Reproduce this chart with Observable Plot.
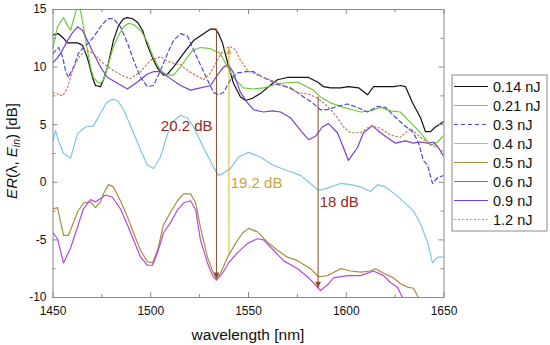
<!DOCTYPE html>
<html><head><meta charset="utf-8">
<script src="https://cdn.jsdelivr.net/npm/d3@7"></script>
<script src="https://cdn.jsdelivr.net/npm/@observablehq/plot@0.6"></script>
<style>
html,body{margin:0;padding:0;background:#fff;}
#chart{position:relative;width:550px;height:345px;}
svg{font-family:"Liberation Sans",Arial,sans-serif;}
</style></head><body><div id="chart"></div>
<script>
// ---- data: [wavelength nm, ER dB] ----
const s014 = [[1450,12.8],[1452.8,12.9],[1455.4,12.5],[1457.4,12.1],[1462.5,12.1],[1465.1,11.9],[1467.6,10.8],[1470.2,9.1],[1471.7,8.4],[1474.3,8.3],[1475.8,8.9],[1477.9,10.0],[1480.9,12.3],[1483.5,13.6],[1486.1,14.2],[1488.1,14.3],[1490.7,14.2],[1493.2,13.9],[1495.8,13.2],[1498.3,11.9],[1500.9,10.8],[1503.5,9.9],[1506.5,9.3],[1508.6,9.4],[1511.6,10.0],[1516.8,11.2],[1521.9,12.3],[1527,12.9],[1530.6,13.3],[1533.1,13.3],[1534.7,12.9],[1536.7,12.1],[1539.3,10.4],[1542.3,8.6],[1545.9,7.4],[1548.5,7.1],[1552,7.3],[1556.1,7.7],[1560.2,8.3],[1564.8,8.9],[1569.9,9.1],[1575.1,9.1],[1580.7,9.1],[1585.3,8.7],[1588.4,8.3],[1592,8.2],[1597.1,8.2],[1601.1,8.3],[1606.3,8.2],[1610.9,7.6],[1614,8.3],[1619.1,8.3],[1624.2,8.3],[1627.8,8.4],[1630.3,8.3],[1633.9,6.9],[1638,5.6],[1640.5,4.4],[1643.1,4.4],[1645.6,4.8],[1649.2,5.2],[1650,5.3]];
const s021 = [[1450,11.7],[1452.3,13.5],[1453.8,13.9],[1455.4,14.3],[1457.4,13.6],[1459,13.2],[1461.5,14.7],[1462.5,15.2],[1464.1,14.9],[1465.6,13.5],[1467.6,11.5],[1469.2,10.0],[1470.7,9.1],[1472.8,8.7],[1474.3,8.6],[1475.8,8.9],[1477.9,10.0],[1480.4,11.5],[1483,12.6],[1486.1,13.5],[1488.6,13.8],[1491.2,13.7],[1494.8,13.2],[1498.3,12.2],[1501.4,10.8],[1505,9.7],[1508.6,9.3],[1511.6,9.3],[1515.2,10.0],[1518.8,10.9],[1521.9,11.5],[1525.4,11.7],[1530.6,11.6],[1535.4,11.2],[1539.3,10.0],[1542.3,9.1],[1547.4,8.2],[1552.6,8.1],[1557.7,8.2],[1566.4,8.6],[1575.1,8.7],[1583.3,8.0],[1586.8,7.4],[1591.9,6.9],[1598.6,6.5],[1607.3,6.1],[1612.4,6.2],[1617.5,6.5],[1622.6,6.2],[1627.7,6.1],[1632.8,5.2],[1638,4.3],[1643.1,3.2],[1646.7,3.5],[1650,4.1]];
const s03 = [[1450,11.2],[1452.8,11.7],[1454.9,10.9],[1456.4,9.7],[1457.9,9.1],[1460.5,10.0],[1463,11.2],[1465.6,11.7],[1468.2,12.1],[1470.7,12.6],[1474.3,13.5],[1477.9,14.2],[1480.9,14.2],[1484.5,13.5],[1488.1,12.1],[1491.2,10.6],[1494.8,9.1],[1498.3,8.3],[1501.4,8.4],[1505,9.7],[1508.6,11.2],[1511.6,12.3],[1515.2,12.9],[1518.8,12.7],[1521.9,11.5],[1525.4,10.2],[1529,8.9],[1532.1,7.8],[1534.7,7.6],[1537.2,7.8],[1540.8,8.9],[1544.4,9.5],[1548.5,9.6],[1552.6,9.6],[1557.7,9.1],[1564.8,8.5],[1571.5,8.2],[1576.6,7.6],[1582.7,6.9],[1586.8,6.3],[1590.4,6.3],[1595.5,6.6],[1600.6,6.8],[1605.7,6.5],[1610.9,6.1],[1616,6.6],[1620.1,6.5],[1624.2,5.8],[1629.3,5.0],[1634.4,4.3],[1637,3.4],[1639.5,1.9],[1641.6,1.5],[1644.1,-0.1],[1646.7,0.4],[1650,0.6]];
const s04 = [[1450,3.6],[1451.3,4.5],[1452.8,3.6],[1455.4,2.5],[1459,2.1],[1462.5,4.2],[1466.6,4.8],[1470.7,4.9],[1474.3,6.0],[1477.4,6.9],[1480.4,7.2],[1483,7.1],[1486.1,6.3],[1490.7,4.5],[1494.8,2.8],[1498.3,1.5],[1501.4,1.2],[1505,2.2],[1508.6,4.2],[1511.6,5.3],[1515.2,5.8],[1518.8,5.6],[1521.9,4.8],[1527,3.0],[1532.1,1.3],[1534.7,0.6],[1537.2,0.8],[1540.8,1.2],[1544.9,2.2],[1550,2.6],[1556.1,2.2],[1562.3,1.5],[1570,1.0],[1576.6,0.6],[1581.7,-0.1],[1585.8,-0.7],[1590.4,-0.5],[1597.1,-0.1],[1602.2,-0.2],[1607.3,-0.4],[1612.4,-0.8],[1616,-0.2],[1620.1,-0.4],[1626.2,-1.2],[1631.4,-2.0],[1634.4,-2.5],[1638,-3.6],[1641.6,-5.2],[1644.1,-7.0],[1646.7,-6.5],[1650,-6.5]];
const s05 = [[1450,-2.3],[1452.3,-2.2],[1455.4,-4.6],[1457.9,-4.6],[1462.5,-2.6],[1465.6,-1.8],[1469.2,-1.7],[1471.7,-2.2],[1474.3,-1.7],[1475.8,-1.0],[1478.4,-0.2],[1480.9,-0.4],[1484.5,-1.6],[1488.1,-3.0],[1491.2,-4.4],[1494.8,-5.9],[1498.3,-6.9],[1500.9,-7.0],[1503.5,-5.9],[1506.5,-3.7],[1510.1,-2.6],[1513.7,-1.6],[1516.8,-1.0],[1520.4,-1.0],[1523,-1.8],[1525.4,-3.9],[1529,-6.5],[1532.1,-7.9],[1533.6,-8.3],[1535.7,-7.9],[1539.3,-6.5],[1543.4,-5.3],[1546.9,-4.4],[1550,-4.0],[1554.6,-4.3],[1559.7,-5.2],[1564.8,-5.9],[1569.9,-6.5],[1575.1,-6.8],[1581.7,-7.5],[1585.8,-8.2],[1590.4,-8.1],[1597.1,-7.5],[1602.2,-7.7],[1607.3,-7.8],[1612.4,-7.7],[1615,-7.5],[1619.1,-7.9],[1624.2,-8.3],[1627.8,-8.8],[1631.4,-9.1],[1634.4,-9.2],[1637.5,-10.2]];
const s06 = [[1450,-4.4],[1452.3,-4.9],[1455.4,-7.0],[1459,-5.7],[1462.5,-3.9],[1465.6,-2.3],[1469.2,-1.5],[1471.7,-1.7],[1474.3,-1.4],[1476.9,-1.1],[1480.4,-1.3],[1484.5,-2.3],[1488.1,-3.7],[1491.2,-5.0],[1494.8,-6.5],[1498.3,-7.2],[1500.9,-7.2],[1503.5,-6.1],[1506.5,-4.4],[1510.1,-3.5],[1513.7,-2.4],[1516.8,-1.8],[1520.4,-1.6],[1523,-2.4],[1525.4,-5.0],[1529,-7.0],[1531.6,-8.1],[1533.6,-8.5],[1536.7,-7.9],[1539.8,-7.0],[1544.4,-6.1],[1549.5,-5.3],[1554.6,-4.9],[1557.7,-5.0],[1562.8,-5.9],[1567.9,-6.8],[1575.1,-7.5],[1580.2,-8.2],[1585.3,-9.1],[1586.8,-9.4],[1590.4,-8.9],[1593.5,-8.3],[1600.6,-8.1],[1607.3,-8.1],[1613.9,-7.7],[1619.1,-8.1],[1622.6,-8.7],[1626.2,-9.1],[1629.3,-10.2]];
const s09 = [[1450,10.4],[1452.3,10.8],[1454.9,11.5],[1457.4,12.3],[1460,13.0],[1462.5,13.5],[1465.1,13.2],[1467.6,12.3],[1470.7,11.2],[1474.3,10.0],[1477.9,9.1],[1483,8.6],[1488.1,8.1],[1493.2,8.7],[1498.3,9.4],[1501.4,9.6],[1505,9.6],[1510.1,9.0],[1515.2,8.4],[1520.4,8.0],[1525.4,8.2],[1530.6,8.4],[1534.1,9.3],[1537.2,10.0],[1539.8,10.2],[1542.3,9.5],[1545.9,7.8],[1549.5,6.9],[1552.6,6.3],[1557.7,6.1],[1562.3,6.2],[1566.4,6.1],[1571.5,5.6],[1576.6,4.5],[1580.7,3.7],[1584.3,4.0],[1587.8,4.8],[1590.9,5.1],[1595.5,4.3],[1598.6,3.0],[1601.1,1.9],[1605.7,3.0],[1608.8,4.3],[1613.4,4.9],[1617.5,4.3],[1621.6,3.8],[1625.2,3.4],[1630.3,3.6],[1634.4,3.4],[1638,3.5],[1641.6,3.4],[1644.6,3.5],[1647.2,3.0],[1650,2.2]];
const s12 = [[1450,7.8],[1454.9,7.5],[1457.4,8.2],[1460,9.7],[1463,10.8],[1466.6,11.5],[1470.7,11.2],[1475.8,10.3],[1480.9,9.7],[1486.1,9.2],[1489.6,9.0],[1494.8,9.6],[1499.9,10.6],[1505,10.9],[1510.1,10.4],[1515.2,10.2],[1518.8,9.7],[1522.9,9.3],[1527,8.9],[1530.6,9.5],[1534.1,10.6],[1537.2,11.5],[1540.3,11.8],[1543.4,11.5],[1545.9,10.6],[1549.5,9.7],[1554.6,9.3],[1561.3,8.9],[1567.9,8.4],[1575.1,7.8],[1581.7,7.6],[1585.3,7.3],[1588.4,6.9],[1592,6.3],[1595.5,5.6],[1598.6,4.8],[1602.2,4.3],[1607.3,4.3],[1612.4,4.9],[1617.5,4.7],[1622.6,4.1],[1627.7,3.9],[1632.8,4.7],[1638,3.9],[1642.1,3.4],[1646.7,3.0],[1650,2.6]];

const seriesLabels = ["0.14 nJ","0.21 nJ","0.3 nJ","0.4 nJ","0.5 nJ","0.6 nJ","0.9 nJ","1.2 nJ"];
const seriesData = [s014, s021, s03, s04, s05, s06, s09, s12];
const seriesColors = ["#111111","#72c83c","#4b4bdc","#7cc6e6","#a88f3e","#b847e0","#7440dc","#c8785a"];
const seriesDash = [null, null, "4,3", null, null, null, null, "1.5,2.5"];

const xMajor = [1450,1500,1550,1600,1650];
const xMinor = [1475,1525,1575,1625];
const yMajor = [-10,-5,0,5,10,15];
const yMinor = [-7.5,-2.5,2.5,7.5,12.5];

// annotations
const arrowX = [1533.6, 1540.0, 1585.6];
const arrowTop = [13.3, 11.7, 7.4];
const arrowBottom = [-8.4, -6.3, -9.2];
const arrowDir = ["down", "up", "down"];
const arrowColors = ["#8a4a2c", "#dcb232", "#8a4a2c"];
const annoText = ["20.2 dB", "19.2 dB", "18 dB"];
const annoX = [1531.6, 1540.9, 1586.4];
const annoY = [4.85, -0.1, -1.7];
const annoAnchor = ["end", "start", "start"];
const annoColors = ["#9a2a1e", "#c9a33c", "#9a2a1e"];

const W = 550, H = 345;
const mL = 52.5, mR = 106.5, mT = 9, mB = 48;
const plotW = W - mL - mR, plotH = H - mT - mB;
const gray = "#8a8a8a";

const triDown = {draw(ctx, size){ const h = Math.sqrt(size)*1.25, w = h*0.42; ctx.moveTo(0,0); ctx.lineTo(-w,-h); ctx.lineTo(w,-h); ctx.closePath(); }};
const triUp = {draw(ctx, size){ const h = Math.sqrt(size)*1.25, w = h*0.42; ctx.moveTo(0,0); ctx.lineTo(-w,h); ctx.lineTo(w,h); ctx.closePath(); }};

const marks = [];
seriesData.forEach((d, i) => {
  marks.push(Plot.line(d, {x: p => p[0], y: p => p[1], stroke: seriesColors[i], strokeWidth: 1.2, strokeDasharray: seriesDash[i] || undefined, clip: true}));
});
const arrows = arrowX.map((x, i) => ({x, y1: arrowBottom[i], y2: arrowTop[i], dir: arrowDir[i], color: arrowColors[i]}));
marks.push(Plot.ruleX(arrows, {x: "x", y1: "y1", y2: "y2", stroke: "color", strokeWidth: 1}));
marks.push(Plot.dot(arrows.filter(a => a.dir === "down"), {x: "x", y: "y1", symbol: triDown, r: 3, fill: "color", stroke: "none"}));
marks.push(Plot.dot(arrows.filter(a => a.dir === "up"), {x: "x", y: "y2", symbol: triUp, r: 3, fill: "color", stroke: "none"}));
const annos = annoText.map((t, i) => ({t, x: annoX[i], y: annoY[i], a: annoAnchor[i], c: annoColors[i]}));
annos.forEach(a => marks.push(Plot.text([a], {x: "x", y: "y", text: "t", fill: "c", textAnchor: a.a, fontSize: 15})));

marks.push(Plot.frame({stroke: gray, strokeWidth: 1}));
marks.push(Plot.tickX(xMajor, {x: d => d, stroke: gray, insetTop: plotH - 5}));
marks.push(Plot.tickX(xMajor, {x: d => d, stroke: gray, insetBottom: plotH - 5}));
marks.push(Plot.tickX(xMinor, {x: d => d, stroke: gray, insetTop: plotH - 3}));
marks.push(Plot.tickX(xMinor, {x: d => d, stroke: gray, insetBottom: plotH - 3}));
marks.push(Plot.tickY(yMajor, {y: d => d, stroke: gray, insetRight: plotW - 5}));
marks.push(Plot.tickY(yMajor, {y: d => d, stroke: gray, insetLeft: plotW - 5}));
marks.push(Plot.tickY(yMinor, {y: d => d, stroke: gray, insetRight: plotW - 3}));
marks.push(Plot.tickY(yMinor, {y: d => d, stroke: gray, insetLeft: plotW - 3}));
marks.push(Plot.axisX(xMajor, {tickSize: 0, tickPadding: 9, fontSize: 12, fill: "#111", label: null, tickFormat: d => String(d)}));
marks.push(Plot.axisY(yMajor, {tickSize: 0, tickPadding: 6.5, fontSize: 12, fill: "#111", label: null, tickFormat: d => String(d)}));

const chart = Plot.plot({
  width: W, height: H,
  marginLeft: mL, marginRight: mR, marginTop: mT, marginBottom: mB,
  x: {domain: [1450, 1650], type: "linear"},
  y: {domain: [-10, 15], type: "linear"},
  style: {fontFamily: '"Liberation Sans", Arial, sans-serif', background: "#fff"},
  marks
});
document.getElementById("chart").appendChild(chart);

const svg = d3.select(chart);
svg.append("text").attr("x", mL + plotW/2).attr("y", 340).attr("text-anchor", "middle")
  .attr("font-size", 15.5).attr("fill", "#111").text("wavelength [nm]");
const yt = svg.append("text").attr("transform", `translate(17,151) rotate(-90)`).attr("text-anchor", "middle")
  .attr("font-size", 15).attr("fill", "#111");
yt.append("tspan").attr("font-style", "italic").text("ER");
yt.append("tspan").text("(λ, ");
yt.append("tspan").attr("font-style", "italic").text("E");
yt.append("tspan").attr("font-style", "italic").attr("font-size", 10.5).attr("dy", 3).text("in");
yt.append("tspan").attr("dy", -3).text(") [dB]");

const lg = svg.append("g");
lg.append("rect").attr("x", 452).attr("y", 75).attr("width", 95).attr("height", 156)
  .attr("fill", "#fff").attr("stroke", gray).attr("stroke-width", 1);
seriesLabels.forEach((lab, i) => {
  const cy = 86.5 + i * 19;
  lg.append("line").attr("x1", 454).attr("x2", 488).attr("y1", cy).attr("y2", cy)
    .attr("stroke", seriesColors[i]).attr("stroke-width", 1.2)
    .attr("stroke-dasharray", seriesDash[i] || null);
  lg.append("text").attr("x", 493).attr("y", cy).attr("dy", "0.36em").attr("text-anchor", "start")
    .attr("font-size", 14.5).attr("fill", "#111").text(lab);
});
</script></body></html>
